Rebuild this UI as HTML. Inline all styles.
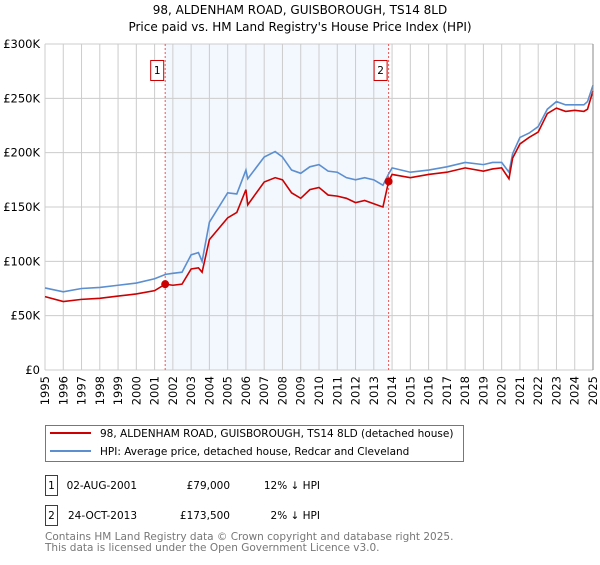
<!DOCTYPE html>
<html><head><meta charset="utf-8"><style>
body{margin:0;background:#fff;font-family:"Liberation Sans","DejaVu Sans",sans-serif;}
svg text{font-family:"DejaVu Sans","Liberation Sans",sans-serif;}
</style></head><body>
<svg id="c" width="600" height="560" xmlns="http://www.w3.org/2000/svg">
<text x="300" y="14" text-anchor="middle" font-size="12" fill="#000">98, ALDENHAM ROAD, GUISBOROUGH, TS14 8LD</text>
<text x="300" y="31" text-anchor="middle" font-size="12" fill="#000">Price paid vs. HM Land Registry's House Price Index (HPI)</text>
<g id="plot"></g>
<g>
<rect x="45.5" y="425.5" width="418" height="36" fill="#fff" stroke="#777"/>
<line x1="50" y1="433" x2="91" y2="433" stroke="#cc0000" stroke-width="2"/>
<text x="100" y="437" font-size="10.5">98, ALDENHAM ROAD, GUISBOROUGH, TS14 8LD (detached house)</text>
<line x1="50" y1="451" x2="91" y2="451" stroke="#5b8fd0" stroke-width="2"/>
<text x="100" y="455" font-size="10.5">HPI: Average price, detached house, Redcar and Cleveland</text>
</g>
<g font-size="10.5">
<rect x="45.5" y="475.5" width="12" height="20" fill="#fff" stroke="#cc0000"/>
<text x="51.5" y="489" text-anchor="middle">1</text>
<text x="137" y="489" text-anchor="end">02-AUG-2001</text>
<text x="230" y="489" text-anchor="end">£79,000</text>
<text x="320" y="489" text-anchor="end">12% ↓ HPI</text>
<rect x="45.5" y="505.5" width="12" height="20" fill="#fff" stroke="#cc0000"/>
<text x="51.5" y="519" text-anchor="middle">2</text>
<text x="137" y="519" text-anchor="end">24-OCT-2013</text>
<text x="230" y="519" text-anchor="end">£173,500</text>
<text x="320" y="519" text-anchor="end">2% ↓ HPI</text>
</g>
<text x="45" y="540" font-size="10.5" fill="#777">Contains HM Land Registry data © Crown copyright and database right 2025.</text>
<text x="45" y="551" font-size="10.5" fill="#777">This data is licensed under the Open Government Licence v3.0.</text>
</svg>
<script>
const hpiYears=[1995,1996,1997,1998,1999,2000,2001,2001.6,2002,2002.5,2003,2003.4,2003.6,2004,2005,2005.5,2006,2006.1,2007,2007.6,2008,2008.5,2009,2009.5,2010,2010.5,2011,2011.5,2012,2012.5,2013,2013.5,2013.8,2014,2015,2016,2017,2018,2019,2019.5,2020,2020.4,2020.6,2021,2021.5,2022,2022.5,2023,2023.5,2024,2024.5,2024.7,2025];
const hpiValues=[75.5,72,75,76,78,80,84,88,89,90,106,108,100,136,163,162,184,176,196,201,196,184,181,187,189,183,182,177,175,177,175,170,180,186,182,184,187,191,189,191,191,182,199,214,218,224,240,247,244,244,244,247,262];
const priceYears=[1995,1996,1997,1998,1999,2000,2001,2001.58,2002,2002.5,2003,2003.4,2003.6,2004,2005,2005.5,2006,2006.1,2007,2007.6,2008,2008.5,2009,2009.5,2010,2010.5,2011,2011.5,2012,2012.5,2013,2013.5,2013.81,2014,2015,2016,2017,2018,2019,2019.5,2020,2020.4,2020.6,2021,2021.5,2022,2022.5,2023,2023.5,2024,2024.5,2024.7,2025];
const priceValues=[67.5,63,65,66,68,70,73,79,78,79,93,94,90,120,140,145,166,152,173,177,175,163,158,166,168,161,160,158,154,156,153,150,173.5,180,177,180,182,186,183,185,186,176,195,208,214,219,236,241,238,239,238,240,257];
const saleYears=[2001.58,2013.81];
const saleValues=[79,173.5];
const saleLabels=["1","2"];
const yTicks=[0,50,100,150,200,250,300];
const yTickLabels=["£0","£50K","£100K","£150K","£200K","£250K","£300K"];
const xTicks=[1995,1996,1997,1998,1999,2000,2001,2002,2003,2004,2005,2006,2007,2008,2009,2010,2011,2012,2013,2014,2015,2016,2017,2018,2019,2020,2021,2022,2023,2024,2025];

const L=45,R=593,T=44,B=370;
const xs=y=>L+(y-1995)/30*(R-L);
const ys=v=>B-v/300*(B-T);
const NS="http://www.w3.org/2000/svg";
const g=document.getElementById('plot');
function mk(tag,at){const e=document.createElementNS(NS,tag);for(const k in at)e.setAttribute(k,at[k]);g.appendChild(e);return e;}
let sh=mk('rect',{x:xs(saleYears[0]),y:T,width:xs(saleYears[1])-xs(saleYears[0]),height:B-T,fill:'#eef3fd',opacity:0.7});


xTicks.forEach(t=>{
 let l=mk('line',{x1:xs(t),x2:xs(t),y1:T,y2:B,stroke:'#ccc'});
 
 
 let tx=mk('text',{x:0,y:0,'font-size':11.5,'text-anchor':'end',transform:`translate(${xs(t)+4},${B+6}) rotate(-90)`});
 tx.textContent=t;
 
 
});
yTicks.forEach((t,i)=>{
 let l=mk('line',{x1:L,x2:R,y1:ys(t),y2:ys(t),stroke:'#ccc'});
 
 
 let tx=mk('text',{x:L-5,y:ys(t)+4,'font-size':11.5,'text-anchor':'end'});
 tx.textContent=yTickLabels[i];
 
 
});
saleYears.forEach((s,i)=>{
 let l=mk('line',{x1:xs(s),x2:xs(s),y1:T,y2:B,stroke:'#e55','stroke-dasharray':'2,2'});
 
 
 let r=mk('rect',{x:xs(s)-14.5,y:60.5,width:13,height:20,fill:'#fff',stroke:'#cc0000'});
 
 
 let t=mk('text',{x:xs(s)-8,y:74,'font-size':10.5,'text-anchor':'middle'});
 t.textContent=saleLabels[i];
 
 
});
let hp=mk('polyline',{points:hpiYears.map((y,i)=>xs(y)+','+ys(hpiValues[i])).join(' '),fill:'none',stroke:'#5b8fd0','stroke-width':1.6});


let pp=mk('polyline',{points:priceYears.map((y,i)=>xs(y)+','+ys(priceValues[i])).join(' '),fill:'none',stroke:'#cc0000','stroke-width':1.6});


saleYears.forEach((s,i)=>{
 let c=mk('circle',{cx:xs(s),cy:ys(saleValues[i]),r:4,fill:'#cc0000'});
 
 
});
let ax=mk('line',{x1:R,x2:R,y1:T,y2:B,stroke:'#888'});


</script>
</body></html>
